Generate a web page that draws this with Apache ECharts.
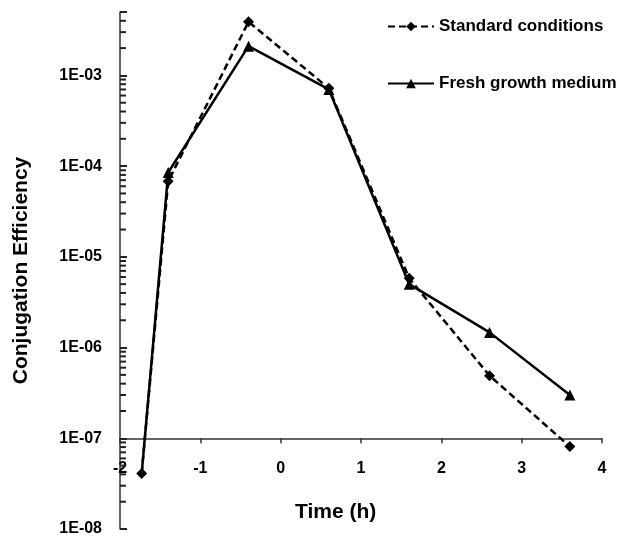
<!DOCTYPE html>
<html>
<head>
<meta charset="utf-8">
<script src="https://cdn.jsdelivr.net/npm/echarts@6/dist/echarts.min.js"></script>
<style>
  html, body { margin: 0; padding: 0; background: #fff; }
  #chart { width: 619px; height: 541px; }
</style>
</head>
<body>
<div id="chart"></div>
<script>
// Temps (h) et efficacités
const timeHours = [ -1.73, -1.4, -0.4, 0.6, 1.6, 2.6, 3.6 ];
const standardConditions = [ 4.1e-8, 6.8e-5, 3.9e-3, 7.2e-4, 5.8e-6, 4.9e-7, 8.1e-8 ];
const freshGrowthMedium = [ 4.1e-8, 8.5e-5, 2.1e-3, 7.0e-4, 5.0e-6, 1.47e-6, 3.0e-7 ];
const seriesNames = [ 'Standard conditions', 'Fresh growth medium' ];
const xTicks = [ -2, -1, 0, 1, 2, 3, 4 ];

// Graduations secondaires du log (2 à 9 pour chaque décade)
const minorMantissas = [ 2, 3, 4, 5, 6, 7, 8, 9 ];
const decades = [ -8, -7, -6, -5, -4, -3 ];
const yMin = 1e-8;
const yMax = 5e-3;

const FONT = '"Liberation Sans", Arial, sans-serif';
const chart = echarts.init( document.getElementById( 'chart' ) );

const minorValues = [];
decades.forEach( ( d ) => {
  minorMantissas.forEach( ( m ) => {
    const v = m * Math.pow( 10, d );
    if ( v <= yMax * 1.0001 ) minorValues.push( v );
  } );
} );

function pairs ( values, hideFirst ) {
  return values.map( ( v, i ) => {
    if ( hideFirst && i === 0 ) return { value: [ timeHours[ i ], v ], symbol: 'none' };
    return [ timeHours[ i ], v ];
  } );
}

const option = {
  animation: false,
  backgroundColor: '#fff',
  grid: { left: 120, right: 17, top: 12, bottom: 12, containLabel: false, outerBoundsMode: 'none' },
  title: {
    text: 'Time (h)',
    left: 295,
    top: 502,
    padding: 0,
    textStyle: { fontFamily: FONT, fontSize: 21, fontWeight: 'bold', color: '#000' }
  },
  legend: {
    data: seriesNames,
    orient: 'vertical',
    left: 387,
    top: 18,
    padding: 0,
    itemWidth: 46,
    itemHeight: 12,
    itemGap: 40,
    textStyle: { fontFamily: FONT, fontSize: 17, fontWeight: 'bold', color: '#000' }
  },
  xAxis: {
    type: 'value',
    min: xTicks[ 0 ],
    max: xTicks[ xTicks.length - 1 ],
    interval: 1,
    offset: -90.7,
    splitLine: { show: false },
    axisLine: { onZero: false, lineStyle: { color: '#333', width: 1.5 } },
    axisTick: { show: true, length: 5, lineStyle: { color: '#333', width: 1.5 } },
    axisLabel: { margin: 22, fontFamily: FONT, fontSize: 16, fontWeight: 'bold', color: '#000' }
  },
  yAxis: {
    type: 'log',
    min: yMin,
    max: yMax,
    interval: 1,
    name: 'Conjugation Efficiency',
    nameLocation: 'middle',
    nameRotate: 90,
    nameGap: 88,
    nameTextStyle: { fontFamily: FONT, fontSize: 21, fontWeight: 'bold', color: '#000' },
    splitLine: { show: false },
    axisLine: { show: true, onZero: false, lineStyle: { color: '#333', width: 1.5 } },
    axisTick: { show: true, inside: true, length: 7, lineStyle: { color: '#222', width: 2 } },
    axisLabel: {
      margin: 18,
      fontFamily: FONT,
      fontSize: 16,
      fontWeight: 'bold',
      color: '#000',
      formatter: ( v ) => {
        const e = Math.log10( v );
        if ( Math.abs( e - Math.round( e ) ) > 1e-6 ) return '';
        const n = Math.abs( Math.round( e ) );
        return '1E-' + ( n < 10 ? '0' + n : n );
      }
    }
  },
  series: [
    {
      // graduations mineures de l'axe log
      type: 'custom',
      silent: true,
      clip: false,
      z: 5,
      data: [ [ 0, 1e-5 ] ],
      renderItem: ( params, api ) => {
        const children = minorValues.map( ( v ) => {
          const p = api.coord( [ xTicks[ 0 ], v ] );
          return {
            type: 'line',
            shape: { x1: p[ 0 ], y1: p[ 1 ], x2: p[ 0 ] + 6, y2: p[ 1 ] },
            style: { stroke: '#222', lineWidth: 2 }
          };
        } );
        return { type: 'group', children };
      }
    },
    {
      name: seriesNames[ 1 ],
      type: 'line',
      data: pairs( freshGrowthMedium, true ),
      symbol: 'triangle',
      symbolSize: 11,
      itemStyle: { color: '#000' },
      lineStyle: { color: '#000', width: 2.5 },
      z: 3
    },
    {
      name: seriesNames[ 0 ],
      type: 'line',
      data: pairs( standardConditions, false ),
      symbol: 'diamond',
      symbolSize: 11,
      itemStyle: { color: '#000' },
      lineStyle: { color: '#000', width: 2.5, type: [ 7, 4 ] },
      z: 4
    }
  ]
};

chart.setOption( option );
</script>
</body>
</html>
